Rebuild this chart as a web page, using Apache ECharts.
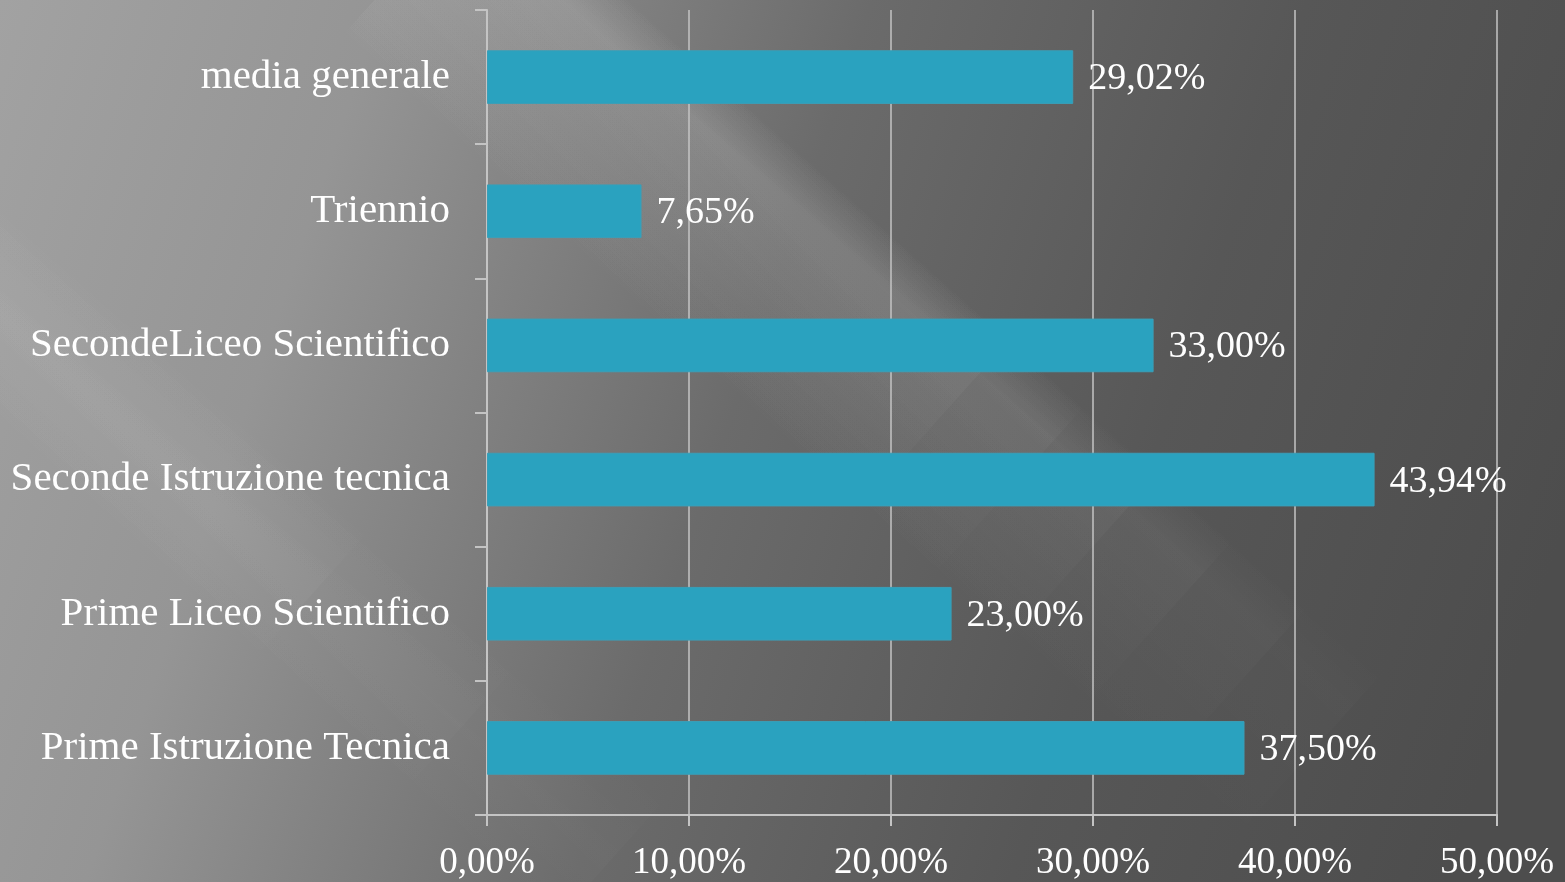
<!DOCTYPE html>
<html>
<head>
<meta charset="utf-8">
<script src="https://cdn.jsdelivr.net/npm/echarts@6/dist/echarts.min.js"></script>
<style>
html,body{margin:0;padding:0;background:#666;}
#chart{width:1565px;height:882px;}
</style>
</head>
<body>
<div id="chart"></div>
<script>
const categories = ['media generale', 'Triennio', 'SecondeLiceo Scientifico', 'Seconde Istruzione tecnica', 'Prime Liceo Scientifico', 'Prime Istruzione Tecnica'];
const values = [29.02, 7.65, 33.00, 43.94, 23.00, 37.50];
const xTicks = [0, 10, 20, 30, 40, 50];

const FONT = 'Liberation Serif';
const fmt = v => v.toFixed(2).replace('.', ',') + '%';

// decorative background streak: nested rects from the same start, fading towards the end
function streak(x, y, w, rot, layers, sharp) {
  return layers.map(([len, alpha]) => ({
    type: 'rect', z: -10, silent: true, x: x, y: y, rotation: rot,
    shape: { x: -w / 2, y: 0, width: w, height: len },
    style: {
      fill: new echarts.graphic.LinearGradient(0, 0, 1, 0, [
        { offset: 0, color: 'rgba(255,255,255,0)' },
        { offset: sharp, color: 'rgba(255,255,255,' + alpha + ')' },
        { offset: 1, color: 'rgba(255,255,255,0)' }
      ])
    }
  }));
}

const chart = echarts.init(document.getElementById('chart'));
chart.setOption({
  backgroundColor: new echarts.graphic.LinearGradient(0, 0, 1, 0.6, [
    { offset: 0, color: '#a2a2a2' },
    { offset: 0.22, color: '#959595' },
    { offset: 0.5, color: '#6b6b6b' },
    { offset: 0.75, color: '#575757' },
    { offset: 1, color: '#4d4d4d' }
  ]),
  graphic: [].concat(
    streak(410, -40, 240, 0.84, [[1200, 0.015], [1100, 0.02], [1000, 0.025], [900, 0.03], [800, 0.03], [700, 0.04]], 0.8),
    streak(-60, 260, 180, 0.84, [[900, 0.02], [700, 0.02], [500, 0.03]], 0.5)
  ),
  animation: false,
  grid: { left: 487, right: 68, top: 10, bottom: 67, containLabel: false },
  xAxis: {
    type: 'value', min: xTicks[0], max: xTicks[xTicks.length - 1], interval: 10,
    axisLine: { show: true, lineStyle: { color: '#c4c4c4', width: 2 } },
    axisTick: { show: true, length: 11, lineStyle: { color: '#c4c4c4', width: 2 } },
    splitLine: { show: true, lineStyle: { color: '#c4c4c4', width: 1.5 } },
    axisLabel: { color: '#ffffff', fontFamily: FONT, fontSize: 37, margin: 30, formatter: fmt, showMaxLabel: true }
  },
  yAxis: {
    type: 'category', data: categories, inverse: true,
    axisLine: { show: true, lineStyle: { color: '#c4c4c4', width: 2 } },
    axisTick: { show: true, length: 12, lineStyle: { color: '#c4c4c4', width: 2 } },
    axisLabel: { color: '#ffffff', fontFamily: FONT, fontSize: 41, margin: 37 }
  },
  series: [{
    type: 'bar', data: values, barCategoryGap: '60%',
    itemStyle: { color: '#2aa2bf', borderColor: '#3a9fb8', borderWidth: 1 },
    label: { show: true, position: 'right', distance: 15, color: '#ffffff', fontFamily: FONT, fontSize: 38, offset: [0, 2], formatter: p => fmt(p.value) }
  }]
});
</script>
</body>
</html>
